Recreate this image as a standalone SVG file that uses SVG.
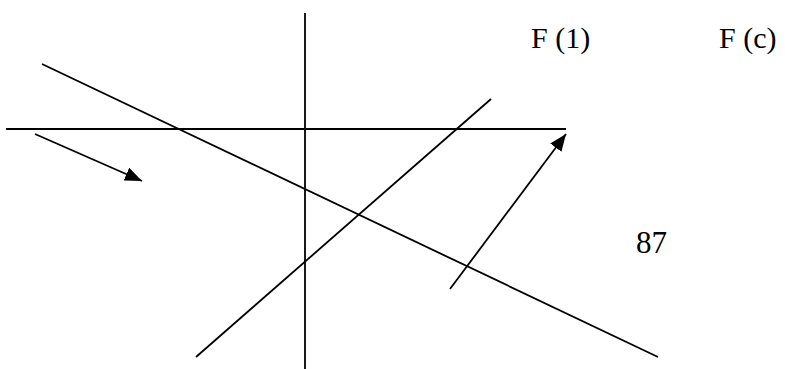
<svg xmlns="http://www.w3.org/2000/svg" width="785" height="369" viewBox="0 0 785 369">
<style>
.ln{stroke:#000;stroke-width:1.8;fill:none}
</style>
<defs>
<marker id="ah" markerUnits="userSpaceOnUse" markerWidth="18" markerHeight="14" refX="17" refY="7" orient="auto">
<path d="M0,0 L17,7 L0,14 Z" fill="#000"/>
</marker>
</defs>
<rect width="785" height="369" fill="#fff"/>
<g id="lines">
<line class="ln" x1="305" y1="13" x2="305" y2="369"/>
<line class="ln" x1="6" y1="129" x2="566" y2="129"/>
<line class="ln" x1="42" y1="64" x2="658" y2="357"/>
<line class="ln" x1="196" y1="357" x2="491" y2="99"/>
</g>
<g id="connectors">
<line class="ln" x1="35" y1="134" x2="142" y2="181" marker-end="url(#ah)"/>
<line class="ln" x1="450" y1="289" x2="566" y2="134" marker-end="url(#ah)"/>
</g>
<g font-family="'Liberation Serif','Times New Roman',serif" font-size="30" fill="#000">
<g id="label-f1"><text x="531" y="48">F (1)</text></g>
<g id="label-fc"><text x="719" y="48">F (c)</text></g>
<g id="label-87"><text x="636" y="253" font-size="31">87</text></g>
</g>
</svg>
